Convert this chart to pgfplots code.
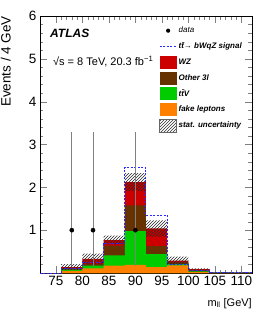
\documentclass[border=0pt]{standalone}
\usepackage{fontspec}
\setmainfont{Liberation Sans}
\usepackage{pgfplots}
\pgfplotsset{compat=1.18}
\usetikzlibrary{patterns}
\definecolor{wzred}{RGB}{204,0,0}
\definecolor{othbrown}{RGB}{102,51,0}
\definecolor{ttvgreen}{RGB}{0,204,0}
\definecolor{fakeorange}{RGB}{255,128,0}
\definecolor{sigblue}{RGB}{40,40,255}
\begin{document}
\begin{tikzpicture}
\path[use as bounding box] (-40pt,-44pt) rectangle (226pt,273pt);
\begin{axis}[
  at={(0,0)}, anchor=south west,
  scale only axis, width=212pt, height=257pt,
  xmin=72, xmax=112, ymin=0, ymax=6,
  xtick={75,80,...,110},
  ytick={0,1,...,6}, yticklabels={,1,2,3,4,5,6},
  minor x tick num=4, minor y tick num=4,
  tick align=inside, tick pos=both,
  major tick length=7pt, minor tick length=3.5pt,
  axis line style={line width=0.6pt},
  /pgf/number format/assume math mode=true,
  ticklabel style={font=\fontsize{13.5}{15}\selectfont},
  xticklabel style={/pgf/number format/1000 sep={}},
  ylabel={Events / 4 GeV},
  ylabel style={at={(axis description cs:-0.137,1)}, anchor=south east, font=\fontsize{13.5}{15}\selectfont, inner sep=0pt},
  xlabel={m\textsubscript{ll} [GeV]},
  xlabel style={at={(axis description cs:1,-0.097)}, anchor=north east, font=\fontsize{11}{13}\selectfont, inner sep=0pt},
  legend style={at={(axis description cs:0.561,0.969)}, anchor=north west, draw=none, fill=none,
    inner sep=0pt, row sep=2.8pt, font=\fontsize{8}{10}\selectfont\bfseries\itshape,
    nodes={inner ysep=0pt, inner xsep=1.5pt}},
  legend cell align=left,
]
% legend entries
\addlegendimage{legend image code/.code={\path[draw=none,fill=none] (0pt,-6.5pt) rectangle (17pt,6.5pt); \fill[black,draw=none] (8.5pt,0pt) circle (2.1pt);}}
\addlegendentry{\mdseries data}
\addlegendimage{legend image code/.code={\path[draw=none,fill=none] (0pt,-6.5pt) rectangle (17pt,6.5pt); \draw[sigblue, dash pattern=on 2pt off 1.5pt, line width=1pt] (0pt,0pt) -- (17pt,0pt);}}
\addlegendentry{t\={t}→ bWqZ signal}
\addlegendimage{legend image code/.code={\fill[wzred,draw=none] (0pt,-6.5pt) rectangle (17pt,6.5pt);}}
\addlegendentry{WZ}
\addlegendimage{legend image code/.code={\fill[othbrown,draw=none] (0pt,-6.5pt) rectangle (17pt,6.5pt);}}
\addlegendentry{Other 3l}
\addlegendimage{legend image code/.code={\fill[ttvgreen,draw=none] (0pt,-6.5pt) rectangle (17pt,6.5pt);}}
\addlegendentry{t\={t}V}
\addlegendimage{legend image code/.code={\fill[fakeorange,draw=none] (0pt,-6.5pt) rectangle (17pt,6.5pt);}}
\addlegendentry{fake leptons}
\addlegendimage{legend image code/.code={\path[draw=black!60, line width=0.6pt, pattern=north east lines, pattern color=black!80] (0pt,-6.5pt) rectangle (17pt,6.5pt);}}
\addlegendentry{stat. uncertainty}

% stacked histogram (cumulative tops), bins of 4 GeV, left edges
\addplot[const plot mark left, draw=none, fill=wzred, forget plot] table {
x y
72 0
76 0.14
80 0.33
84 0.77
88 2.12
92 1.04
96 0.29
100 0.09
104 0.015
108 0.012
112 0.012
} \closedcycle;
\addplot[const plot mark left, draw=none, fill=othbrown, forget plot] table {
x y
72 0
76 0.10
80 0.21
84 0.64
88 1.58
92 0.63
96 0.25
100 0.06
104 0.012
108 0.01
112 0.01
} \closedcycle;
\addplot[const plot mark left, draw=none, fill=ttvgreen, forget plot] table {
x y
72 0
76 0.08
80 0.17
84 0.41
88 0.98
92 0.44
96 0.21
100 0.04
104 0.01
108 0.008
112 0.008
} \closedcycle;
\addplot[const plot mark left, draw=none, fill=fakeorange, forget plot] table {
x y
72 0
76 0.05
80 0.11
84 0.17
88 0.19
92 0.14
96 0.18
100 0.02
104 0.005
108 0.004
112 0.004
} \closedcycle;

% stat uncertainty band: upper edge (value of bin at its left edge, left to right),
% then lower edge (value of bin at its right edge, right to left)
\addplot[const plot mark left, draw=none, pattern=north east lines, pattern color=black!85, forget plot] table {
x y
72 0
76 0.21
80 0.45
84 0.87
88 2.33
92 1.23
96 0.38
100 0.11
104 0.02
108 0.015
112 0.015
112 0.009
108 0.01
104 0.07
100 0.20
96 0.85
92 1.91
88 0.67
84 0.21
80 0.07
76 0
72 0
};

% signal
\addplot[const plot mark left, sigblue, dash pattern=on 2pt off 1.5pt, line width=1pt, forget plot] table {
x y
72 0
76 0.10
80 0.25
84 0.68
88 2.46
92 1.35
96 0.19
100 0.07
104 0.01
108 0.01
112 0.01
};

% data
\addplot[only marks, mark=*, mark size=2.1pt, black, forget plot,
  error bars/.cd, y dir=both, y explicit, error mark=none,
  error bar style={black!50, line width=0.8pt}]
  table[x=x, y=y, y error plus=ep, y error minus=em] {
x y ep em
78 1 2.30 0.83
82 1 2.30 0.83
90 1 2.30 0.83
};

\node[anchor=base west, font=\fontsize{12}{14}\selectfont\bfseries\itshape, inner sep=0pt] at (rel axis cs:0.047,0.918) {ATLAS};
\node[anchor=base west, font=\fontsize{11}{13}\selectfont, inner sep=0pt] at (rel axis cs:0.061,0.809) {√s = 8 TeV, 20.3 fb\textsuperscript{−1}};
\end{axis}
\end{tikzpicture}
\end{document}
